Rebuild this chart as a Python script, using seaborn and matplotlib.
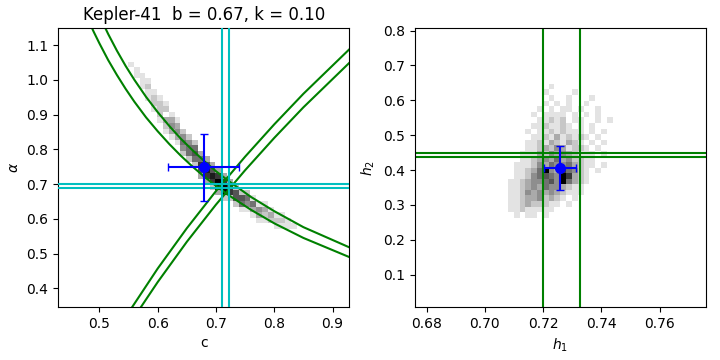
import matplotlib
matplotlib.use("Agg")
import matplotlib.pyplot as plt
import seaborn as sns

# ---- left panel: c vs alpha ----
c_fit, c_err = 0.679, 0.0605
alpha_fit, alpha_err = 0.748, 0.096
c_cyan = [0.7103, 0.7223]
alpha_cyan = [0.700, 0.688]

# h1 constraint curves (upper h1 = 0.7325, lower h1 = 0.720)
h1a_c = [0.484, 0.49, 0.50, 0.515, 0.53, 0.545, 0.56, 0.58, 0.60, 0.62,
         0.64, 0.66, 0.68, 0.70, 0.72, 0.76, 0.80, 0.85, 0.93]
h1a_alpha = [1.161, 1.139, 1.105, 1.057, 1.014, 0.974, 0.937, 0.892, 0.852, 0.815,
             0.781, 0.750, 0.721, 0.695, 0.670, 0.626, 0.587, 0.545, 0.489]
h1b_c = [0.50, 0.505, 0.515, 0.53, 0.545, 0.56, 0.58, 0.60, 0.62,
         0.64, 0.66, 0.68, 0.70, 0.72, 0.76, 0.80, 0.85, 0.93]
h1b_alpha = [1.185, 1.167, 1.132, 1.084, 1.040, 1.000, 0.951, 0.907, 0.867,
             0.830, 0.797, 0.766, 0.737, 0.711, 0.663, 0.622, 0.576, 0.517]
# h2 constraint curves (h2 = 0.437 and h2 = 0.449)
h2a_c = [0.54, 0.60, 0.65, 0.70, 0.75, 0.80, 0.85, 0.93]
h2a_alpha = [0.305, 0.457, 0.573, 0.680, 0.779, 0.872, 0.960, 1.090]
h2b_c = [0.55, 0.60, 0.65, 0.70, 0.75, 0.80, 0.85, 0.93]
h2b_alpha = [0.293, 0.418, 0.534, 0.641, 0.740, 0.833, 0.921, 1.051]

# posterior sample histogram: one column per c bin, counts listed top -> bottom
band_c = [0.554, 0.564, 0.574, 0.584, 0.594, 0.604, 0.614, 0.624, 0.634, 0.644,
          0.654, 0.664, 0.674, 0.684, 0.694, 0.704, 0.714, 0.724, 0.734, 0.744,
          0.754, 0.764, 0.774, 0.784, 0.794, 0.804, 0.814, 0.824, 0.834]
band_mid = [1.040, 1.015, 0.990, 0.965, 0.940, 0.915, 0.892, 0.868, 0.845, 0.823,
            0.800, 0.780, 0.760, 0.742, 0.726, 0.711, 0.697, 0.684, 0.671, 0.659,
            0.647, 0.636, 0.625, 0.615, 0.606, 0.597, 0.588, 0.580, 0.572]
band_n = ["1", "11", "111", "1211", "1221", "12221", "12321", "13431", "13431", "24542",
          "24552", "25652", "35763", "36873", "36872", "37983", "37992", "3772", "2662", "2651",
          "2541", "1531", "1431", "1321", "132", "121", "121", "11", "1"]

# ---- right panel: h1 vs h2 ----
h1_fit, h1_err = 0.7259, 0.0055
h2_fit, h2_err = 0.406, 0.064
h1_lines = [0.7198, 0.7326]
h2_lines = [0.448, 0.437]

blob_h1 = [0.709, 0.711, 0.713, 0.715, 0.717, 0.719, 0.721, 0.723, 0.725, 0.727,
           0.729, 0.731, 0.733, 0.735, 0.737, 0.739, 0.741, 0.743, 0.745]
blob_h2 = [0.639, 0.623, 0.607, 0.591, 0.575, 0.559, 0.543, 0.527, 0.511, 0.495,
           0.479, 0.463, 0.447, 0.431, 0.415, 0.399, 0.383, 0.367, 0.351, 0.335,
           0.319, 0.303, 0.287, 0.271]
blob_n = [
    ".......1...........",
    "......1....1.......",
    ".......1..1...1....",
    "......1.1.1..1.....",
    ".....1.1.11.1..1...",
    "....1.1111.1.1.1...",
    ".....11212.11..1.1.",
    "....1121121.1.1....",
    "...1.11212111.1.1..",
    "....1121312121.1...",
    "...1121321321.1.1..",
    "...11232431221.1...",
    "..1113243432111.1..",
    "..1123435342211....",
    ".11124354453211.1..",
    ".1123594375421.1...",
    ".1124565497321.....",
    "11234456495321.....",
    "1123435443211......",
    "1124343432111......",
    "1123342321.1.......",
    "112322211.1........",
    "11211111...........",
    ".1.11.1............",
]

# expand to weighted cells
cell_h = 0.0161
lx, ly, lw = [], [], []
for c, mid, s in zip(band_c, band_mid, band_n):
    k = len(s)
    for r, ch in enumerate(s):
        lx.append(c)
        ly.append(mid + ((k - 1) / 2 - r) * cell_h)
        lw.append(int(ch))

rx, ry, rw = [], [], []
for h2, row in zip(blob_h2, blob_n):
    for h1, ch in zip(blob_h1, row):
        if ch != ".":
            rx.append(h1)
            ry.append(h2)
            rw.append(int(ch))

fig, (ax1, ax2) = plt.subplots(1, 2, figsize=(7.2, 3.6), dpi=100)
fig.subplots_adjust(left=0.0806, right=0.9806, bottom=0.147, top=0.922, wspace=0.2234)

xl1 = (c_fit - 0.25, c_fit + 0.25)
yl1 = (alpha_fit - 0.402, alpha_fit + 0.401)
sns.histplot(x=lx, y=ly, weights=lw, bins=50, binrange=(xl1, yl1),
             cmap="gray_r", vmin=0, vmax=9, ax=ax1)
for cx, cy in [(h1a_c, h1a_alpha), (h1b_c, h1b_alpha), (h2a_c, h2a_alpha), (h2b_c, h2b_alpha)]:
    ax1.plot(cx, cy, color="g", lw=1.5, zorder=2)
for v in c_cyan:
    ax1.axvline(v, color="c", lw=1.5, zorder=3)
for v in alpha_cyan:
    ax1.axhline(v, color="c", lw=1.5, zorder=3)
ax1.errorbar(c_fit, alpha_fit, xerr=c_err, yerr=alpha_err, fmt="o", color="b",
             ms=7, capsize=3, lw=1.5, zorder=5)
ax1.set_xlim(xl1)
ax1.set_ylim(yl1)
ax1.set_xlabel("c")
ax1.set_ylabel(r"$\alpha$")
ax1.set_title("Kepler-41  b = 0.67, k = 0.10")

xl2 = (h1_fit - 0.05, h1_fit + 0.05)
yl2 = (h2_fit - 0.399, h2_fit + 0.401)
sns.histplot(x=rx, y=ry, weights=rw, bins=50, binrange=(xl2, yl2),
             cmap="gray_r", vmin=0, vmax=9, ax=ax2)
for v in h1_lines:
    ax2.axvline(v, color="g", lw=1.5, zorder=2)
for v in h2_lines:
    ax2.axhline(v, color="g", lw=1.5, zorder=2)
ax2.errorbar(h1_fit, h2_fit, xerr=h1_err, yerr=h2_err, fmt="o", color="b",
             ms=7, capsize=3, lw=1.5, zorder=5)
ax2.set_xlim(xl2)
ax2.set_ylim(yl2)
ax2.set_xlabel(r"$h_1$")
ax2.set_ylabel(r"$h_2$")

fig.savefig("out.png", dpi=100)
plt.close(fig)
